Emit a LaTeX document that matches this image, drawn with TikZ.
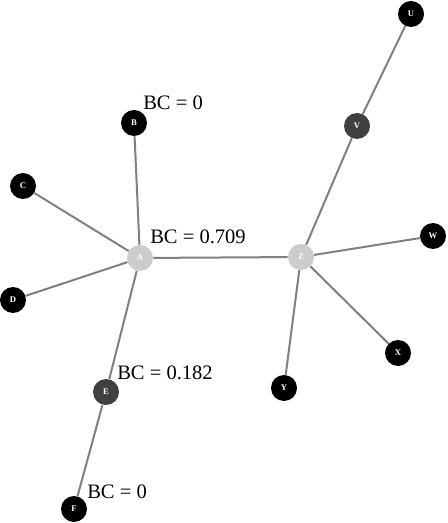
\documentclass[tikz,border=0pt]{standalone}
\usepackage{fontspec}
\setmainfont{Liberation Serif}
\usetikzlibrary{positioning}

\begin{document}
\begin{tikzpicture}[x=0.75pt, y=-0.75pt,
  vertex/.style={circle, inner sep=0pt, minimum size=19.5pt,
    font=\fontsize{6.5}{7}\selectfont\bfseries, text=white},
  leaf/.style={vertex, fill=black},
  mid/.style={vertex, fill=black!75},
  hub/.style={vertex, fill=black!20},
  link/.style={draw=black!50, line width=1.5pt},
  bclabel/.style={anchor=west, inner sep=0pt, font=\fontsize{15.4}{17}\selectfont}]

% --- Bounding box ---
\useasboundingbox (0,0) rectangle (448,523);

% ============================================================
% Vertices
% ============================================================
\node[hub]  (A) at (140,258) {A};
\node[leaf] (B) at (134,123) {B};
\node[leaf] (C) at (23,186)  {C};
\node[leaf] (D) at (13,300)  {D};
\node[mid]  (E) at (106,392) {E};
\node[leaf] (F) at (74,509)  {F};

\node[hub]  (Z) at (301,257) {Z};
\node[mid]  (V) at (357,126) {V};
\node[leaf] (U) at (411,14)  {U};
\node[leaf] (W) at (433,236) {W};
\node[leaf] (X) at (398,353) {X};
\node[leaf] (Y) at (284,388) {Y};

% ============================================================
% Edges
% ============================================================
\draw[link] (A) -- (B);
\draw[link] (A) -- (C);
\draw[link] (A) -- (D);
\draw[link] (A) -- (E);
\draw[link] (E) -- (F);
\draw[link] (A) -- (Z);
\draw[link] (Z) -- (V);
\draw[link] (V) -- (U);
\draw[link] (Z) -- (W);
\draw[link] (Z) -- (X);
\draw[link] (Z) -- (Y);

% ============================================================
% Betweenness labels
% ============================================================
\node[bclabel] (bcB) at (143,103) {BC = 0};
\node[bclabel] (bcA) at (150,237) {BC = 0.709};
\node[bclabel] (bcE) at (117,373) {BC = 0.182};
\node[bclabel] (bcF) at (87,492)  {BC = 0};

\end{tikzpicture}
\end{document}
